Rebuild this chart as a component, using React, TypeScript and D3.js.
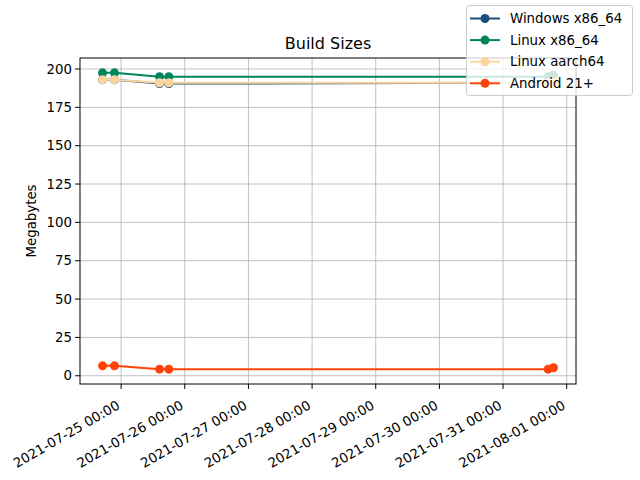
import React from 'react'
import * as d3 from 'd3'

const times = [
  '2021-07-24T17:00:00Z',
  '2021-07-24T21:30:00Z',
  '2021-07-25T14:30:00Z',
  '2021-07-25T18:00:00Z',
  '2021-07-31T17:00:00Z',
  '2021-07-31T19:00:00Z'
].map(t => new Date(t))

const seriesNames = ['Windows x86_64', 'Linux x86_64', 'Linux aarch64', 'Android 21+']
const seriesColors = ['#1a4e7c', '#00855a', '#fcd49e', '#ff4208']
const windowsValues = [193, 193, 190.5, 190.5, 191, 191]
const linuxValues = [197.5, 197.5, 195, 195, 195, 196]
const aarchValues = [193, 193, 191, 191, 191, 191]
const androidValues = [6.5, 6.5, 4.3, 4.3, 4.3, 5.2]
const yTicks = [0, 25, 50, 75, 100, 125, 150, 175, 200]

const allSeries = [windowsValues, linuxValues, aarchValues, androidValues]

const W = 640
const H = 480
const left = 80
const right = 576
const top = 58
const bottom = 384
const font = 'DejaVu Sans, sans-serif'

export default function App () {
  const tMin = d3.min(times)!.getTime()
  const tMax = d3.max(times)!.getTime()
  const tPad = (tMax - tMin) * 0.05
  const xScale = d3.scaleUtc()
    .domain([new Date(tMin - tPad), new Date(tMax + tPad)])
    .range([left, right])

  const vals = allSeries.flat()
  const vMin = d3.min(vals)!
  const vMax = d3.max(vals)!
  const vPad = (vMax - vMin) * 0.05
  const yScale = d3.scaleLinear()
    .domain([vMin - vPad, vMax + vPad])
    .range([bottom, top])

  const xTicks = d3.utcDay.range(
    d3.utcDay.ceil(xScale.domain()[0]),
    xScale.domain()[1]
  )
  const fmt = d3.utcFormat('%Y-%m-%d %H:%M')

  const line = d3.line<number>()
    .x((_, i) => xScale(times[i]))
    .y(v => yScale(v))

  return <svg width={W} height={H} style={{ position: 'absolute', left: 0, top: 0, background: '#fff' }} fontFamily={font}>
    <rect x={0} y={0} width={W} height={H} fill='#fff' />
    <g>
      {xTicks.map((t, i) => <line key={'gx' + i} x1={xScale(t)} x2={xScale(t)} y1={top} y2={bottom} stroke='#b0b0b0' strokeWidth={0.8} />)}
      {yTicks.map((v, i) => <line key={'gy' + i} x1={left} x2={right} y1={yScale(v)} y2={yScale(v)} stroke='#b0b0b0' strokeWidth={0.8} />)}
    </g>
    <g>
      {allSeries.map((s, si) => <g key={si}>
        <path d={line(s)!} fill='none' stroke={seriesColors[si]} strokeWidth={2} />
        {s.map((v, i) => <circle key={i} cx={xScale(times[i])} cy={yScale(v)} r={4.5} fill={seriesColors[si]} />)}
      </g>)}
    </g>
    <rect x={left} y={top} width={right - left} height={bottom - top} fill='none' stroke='#000' strokeWidth={1} />
    <g>
      {yTicks.map((v, i) => <g key={i} transform={`translate(${left},${yScale(v)})`}>
        <line x1={0} x2={-4.9} y1={0} y2={0} stroke='#000' />
        <text x={-8} dy='0.35em' textAnchor='end' fontSize={13.33}>{v}</text>
      </g>)}
    </g>
    <g>
      {xTicks.map((t, i) => <g key={i} transform={`translate(${xScale(t)},${bottom})`}>
        <line x1={0} x2={0} y1={0} y2={4.9} stroke='#000' />
        <text transform='translate(-5,16) rotate(-30)' textAnchor='end' dy='0.7em' fontSize={13.33}>{fmt(t)}</text>
      </g>)}
    </g>
    <text x={(left + right) / 2} y={49} textAnchor='middle' fontSize={16}>Build Sizes</text>
    <text transform={`translate(36,${(top + bottom) / 2}) rotate(-90)`} textAnchor='middle' fontSize={13.33}>Megabytes</text>
    <g>
      <rect x={466.5} y={5.5} width={166} height={90} rx={3} fill='#fff' fillOpacity={0.8} stroke='#cccccc' />
      {seriesNames.map((n, i) => {
        const y = 18.5 + i * 21.6
        return <g key={i}>
          <line x1={470} x2={500} y1={y} y2={y} stroke={seriesColors[i]} strokeWidth={2} />
          <circle cx={485} cy={y} r={4.5} fill={seriesColors[i]} />
          <text x={510} y={y} dy='0.35em' fontSize={13.33}>{n}</text>
        </g>
      })}
    </g>
  </svg>
}
